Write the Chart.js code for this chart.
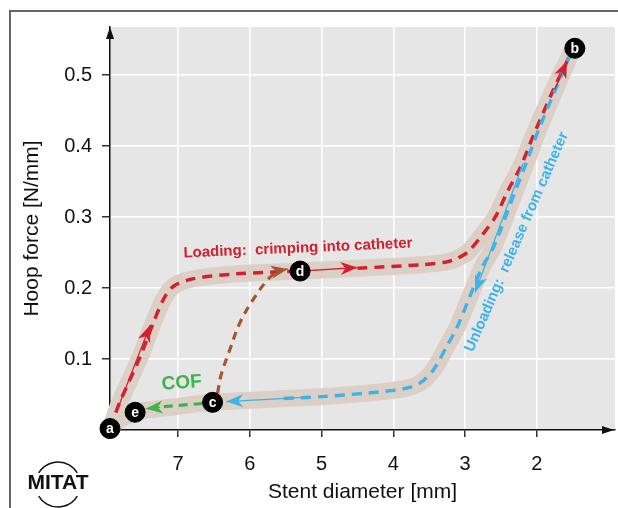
<!DOCTYPE html>
<html>
<head>
<meta charset="utf-8">
<script src="https://cdn.jsdelivr.net/npm/chart.js@4.4.0/dist/chart.umd.min.js"></script>
<style>
  html, body { margin: 0; padding: 0; background: #fff; }
  #wrap { width: 618px; height: 508px; }
</style>
</head>
<body>
<div id="wrap"><canvas id="myChart" width="618" height="508"></canvas></div>
<script>
// stent diameter [mm] vs hoop force [N/mm]
var loadX = [7.95, 7.81, 7.53, 7.35, 7.2, 7.06, 6.8, 6.2, 5.3, 4.5, 3.6, 3.25, 3.11, 2.96, 2.76, 2.58, 2.40, 2.23, 2.06, 1.78, 1.52];
var loadY = [0.002, 0.04, 0.103, 0.15, 0.185, 0.203, 0.213, 0.220, 0.224, 0.228, 0.233, 0.237, 0.242, 0.251, 0.275, 0.300, 0.338, 0.370, 0.412, 0.477, 0.532];

var unloadX = [1.52, 1.96, 2.16, 2.28, 2.49, 2.62, 2.76, 2.97, 3.11, 3.26, 3.44, 3.63, 3.86, 4.37, 5.0, 5.6, 6.52];
var unloadY = [0.532, 0.427, 0.373, 0.342, 0.286, 0.254, 0.230, 0.179, 0.145, 0.117, 0.085, 0.066, 0.058, 0.052, 0.047, 0.044, 0.039];

var returnX = [7.1, 7.6, 7.85, 7.95];
var returnY = [0.032, 0.025, 0.012, 0.002];

var cofX = [6.45, 7.32];
var cofY = [0.039, 0.032];

var brownX = [6.45, 6.40, 6.28, 6.14, 5.96, 5.76, 5.62];
var brownY = [0.052, 0.078, 0.113, 0.151, 0.183, 0.211, 0.224];

var ptLabels = ['a', 'b', 'c', 'd', 'e'];
var ptX = [7.95, 1.47, 6.52, 5.30, 7.60];
var ptY = [0.002, 0.538, 0.039, 0.224, 0.025];

var xTicks = [7, 6, 5, 4, 3, 2];
var yTicks = [0.1, 0.2, 0.3, 0.4, 0.5];

function xy(xs, ys) {
  return xs.map(function(x, i) { return { x: x, y: ys[i] } });
}

var RED = '#d3202f';
var BLUE = '#3db3e8';
var GREEN = '#3cb44a';
var BROWN = '#a5562a';
var BAND = '#dccfc5';

Chart.defaults.font.family = "'Liberation Sans', Arial, Helvetica, sans-serif";

function arrow(ctx, x0, y0, x1, y1, color) {
  var ang = Math.atan2(y1 - y0, x1 - x0);
  ctx.save();
  ctx.strokeStyle = color;
  ctx.fillStyle = color;
  ctx.lineWidth = 1.3;
  ctx.beginPath();
  ctx.moveTo(x0, y0);
  ctx.lineTo(x1, y1);
  ctx.stroke();
  ctx.translate(x1, y1);
  ctx.rotate(ang);
  ctx.beginPath();
  ctx.moveTo(0, 0);
  ctx.lineTo(-17, -6.5);
  ctx.lineTo(-12, 0);
  ctx.lineTo(-17, 6.5);
  ctx.closePath();
  ctx.fill();
  ctx.restore();
}

function label(ctx, text, x, y, angle, font, color) {
  ctx.save();
  ctx.translate(x, y);
  ctx.rotate(angle * Math.PI / 180);
  ctx.font = font;
  ctx.fillStyle = color;
  ctx.textAlign = 'center';
  ctx.textBaseline = 'middle';
  ctx.fillText(text, 0, 0);
  ctx.restore();
}

var decor = {
  id: 'decor',
  beforeDraw: function(chart) {
    var ctx = chart.ctx, a = chart.chartArea;
    ctx.save();
    ctx.fillStyle = '#fff';
    ctx.fillRect(0, 0, chart.width, chart.height);
    ctx.fillStyle = '#e6e6e6';
    ctx.fillRect(a.left, a.top, a.right - a.left, a.bottom - a.top);
    ctx.restore();
  },
  beforeDatasetDraw: function(chart, args) {
    // direction arrows go under the lettered points
    if (args.index !== 0) return;
    var ctx = chart.ctx, sx = chart.scales.x, sy = chart.scales.y;
    var list = [
      [7.85, 0.028, 7.39, 0.148, RED],
      [5.30, 0.224, 4.50, 0.229, RED],
      [1.75, 0.480, 1.58, 0.520, RED],
      [2.19, 0.376, 2.86, 0.194, BLUE],
      [5.25, 0.046, 6.33, 0.040, BLUE],
      [7.25, 0.032, 7.45, 0.030, GREEN],
      [5.62, 0.224, 5.47, 0.227, BROWN]
    ];
    list.forEach(function(r) {
      arrow(ctx, sx.getPixelForValue(r[0]), sy.getPixelForValue(r[1]),
        sx.getPixelForValue(r[2]), sy.getPixelForValue(r[3]), r[4]);
    });
  },
  afterDatasetsDraw: function(chart) {
    var ctx = chart.ctx;
    var meta = chart.getDatasetMeta(0);
    ctx.save();
    ctx.fillStyle = '#fff';
    ctx.font = 'bold 14px ' + Chart.defaults.font.family;
    ctx.textAlign = 'center';
    ctx.textBaseline = 'middle';
    meta.data.forEach(function(el, i) {
      ctx.fillText(ptLabels[i], el.x, el.y + 1);
    });
    ctx.restore();
  },
  afterDraw: function(chart) {
    var ctx = chart.ctx, a = chart.chartArea, sx = chart.scales.x, sy = chart.scales.y;
    var fam = Chart.defaults.font.family;

    // axis arrow heads
    ctx.save();
    ctx.fillStyle = '#111';
    ctx.beginPath();
    ctx.moveTo(a.left, a.top);
    ctx.lineTo(a.left - 4, a.top + 12);
    ctx.lineTo(a.left + 4, a.top + 12);
    ctx.closePath();
    ctx.fill();
    ctx.beginPath();
    ctx.moveTo(a.right - 1, a.bottom);
    ctx.lineTo(a.right - 13, a.bottom - 4);
    ctx.lineTo(a.right - 13, a.bottom + 4);
    ctx.closePath();
    ctx.fill();

    // outer frame
    ctx.strokeStyle = '#666';
    ctx.lineWidth = 2;
    ctx.beginPath();
    ctx.moveTo(10, chart.height);
    ctx.lineTo(10, 11);
    ctx.lineTo(chart.width, 11);
    ctx.stroke();
    ctx.restore();

    label(ctx, 'Loading:  crimping into catheter', sx.getPixelForValue(5.33), sy.getPixelForValue(0.256),
      -2.5, 'bold 15px ' + fam, RED);
    label(ctx, 'Unloading:  release from catheter', sx.getPixelForValue(2.28), sy.getPixelForValue(0.265),
      -66.4, 'bold 15px ' + fam, BLUE);
    label(ctx, 'COF', sx.getPixelForValue(6.95), sy.getPixelForValue(0.066),
      -4, 'bold 19px ' + fam, GREEN);

    // MITAT logo
    ctx.save();
    ctx.strokeStyle = '#111';
    ctx.lineWidth = 1.5;
    var cx = 58, cy = 484.5, r = 22.5, t = 0.54;
    ctx.beginPath();
    ctx.arc(cx, cy, r, Math.PI + t, 2 * Math.PI - t);
    ctx.stroke();
    ctx.beginPath();
    ctx.arc(cx, cy, r, t, Math.PI - t);
    ctx.stroke();
    ctx.restore();
    label(ctx, 'MITAT', cx, cy - 1, 0, 'bold 21px ' + fam, '#111');
  }
};

var ctx = document.getElementById('myChart').getContext('2d');
var chart = new Chart(ctx, {
  type: 'scatter',
  data: {
    datasets: [
      {
        // lettered points
        data: xy(ptX, ptY),
        pointRadius: 10,
        pointHoverRadius: 10,
        backgroundColor: '#000',
        borderColor: '#000',
        clip: false,
        order: 0
      },
      {
        data: xy(cofX, cofY),
        showLine: true,
        pointRadius: 0,
        borderColor: GREEN,
        borderWidth: 3.2,
        borderDash: [9, 6],
        order: 1
      },
      {
        data: xy(brownX, brownY),
        showLine: true,
        pointRadius: 0,
        borderColor: BROWN,
        borderWidth: 3.2,
        borderDash: [8, 6],
        tension: 0.35,
        order: 1
      },
      {
        data: xy(unloadX, unloadY),
        showLine: true,
        pointRadius: 0,
        borderColor: BLUE,
        borderWidth: 3.4,
        borderDash: [10, 7],
        tension: 0.3,
        segment: {
          borderColor: function(c) { return c.p0.parsed.x > 5.2 ? 'transparent' : undefined }
        },
        order: 1
      },
      {
        data: xy(loadX, loadY),
        showLine: true,
        pointRadius: 0,
        borderColor: RED,
        borderWidth: 3.5,
        borderDash: [10, 7],
        tension: 0.3,
        segment: {
          borderColor: function(c) {
            return (c.p0.parsed.x <= 5.31 && c.p1.parsed.x >= 4.49) ? 'transparent' : undefined
          }
        },
        order: 1
      },
      {
        // band under unloading + return
        data: xy(unloadX.concat(returnX), unloadY.concat(returnY)),
        showLine: true,
        pointRadius: 0,
        borderColor: BAND,
        borderWidth: 17,
        borderCapStyle: 'round',
        borderJoinStyle: 'round',
        tension: 0.3,
        clip: false,
        order: 2
      },
      {
        // band under loading
        data: xy(loadX, loadY),
        showLine: true,
        pointRadius: 0,
        borderColor: BAND,
        borderWidth: 17,
        borderCapStyle: 'round',
        borderJoinStyle: 'round',
        tension: 0.3,
        clip: false,
        order: 2
      }
    ]
  },
  options: {
    responsive: false,
    animation: false,
    events: [],
    layout: { autoPadding: false, padding: { top: 27, right: 3, left: 0, bottom: 0 } },
    plugins: {
      legend: { display: false },
      tooltip: { enabled: false }
    },
    scales: {
      x: {
        type: 'linear',
        reverse: true,
        min: 0.91,
        max: 7.95,
        afterBuildTicks: function(s) { s.ticks = xTicks.map(function(v) { return { value: v } }) },
        afterFit: function(s) { s.height = 78 },
        grid: { color: '#fff', lineWidth: 1.5, tickColor: '#333', tickLength: 7 },
        border: { color: '#111', width: 1.5 },
        ticks: { color: '#111', font: { size: 20 }, padding: 15, maxRotation: 0 },
        title: { display: true, text: 'Stent diameter [mm]', color: '#111', font: { size: 21 }, padding: { top: 0, bottom: 3 } }
      },
      y: {
        type: 'linear',
        min: 0,
        max: 0.568,
        afterBuildTicks: function(s) { s.ticks = yTicks.map(function(v) { return { value: v } }) },
        afterFit: function(s) { s.width = 110 },
        grid: { color: '#fff', lineWidth: 1.5, tickColor: '#333', tickLength: 8 },
        border: { color: '#111', width: 1.5 },
        ticks: { color: '#111', font: { size: 20 }, padding: 10 },
        title: { display: true, text: 'Hoop force [N/mm]', color: '#111', font: { size: 21 }, padding: { top: 20, bottom: 0 } }
      }
    }
  },
  plugins: [decor]
});
</script>
</body>
</html>
